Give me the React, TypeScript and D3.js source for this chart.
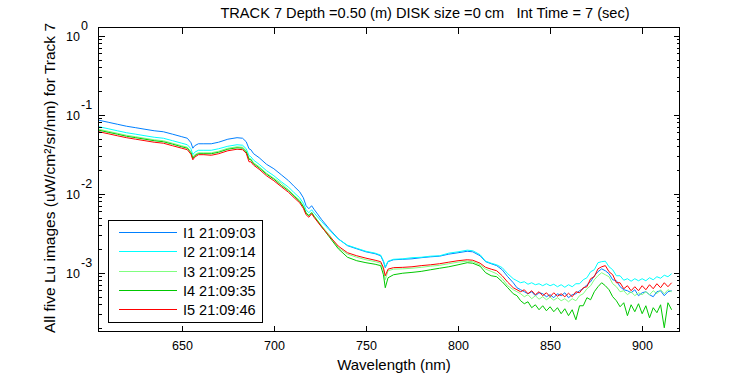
import React from "react";
import * as d3 from "d3";

const wavelengths = [
  605, 610, 615, 620, 625, 630, 635, 640, 645, 650,
  653, 655, 656, 657, 659, 662, 666, 670, 675, 680,
  683, 685, 686.5, 687.5, 689, 692, 696, 700, 704, 708,
  711, 714, 716, 717.5, 719, 720.5, 722, 726, 730, 735,
  740, 745, 750, 755, 758, 759.5, 760.5, 762, 765, 770,
  775, 780, 785, 790, 795, 800, 805, 808, 812, 815,
  818, 821, 824, 827, 830,
  832, 834, 836, 838, 840, 842, 844, 846, 848, 850,
  852, 854, 856, 858, 860, 862, 864, 866, 868, 870,
  872, 874, 876, 878, 880, 882, 884, 886, 888, 890,
  892, 894, 896, 898, 900, 902, 904, 906, 908, 910,
  912, 914, 916,
];

const luI1 = [
  0.0852, 0.0804, 0.0758, 0.0715, 0.0685, 0.0655, 0.0627, 0.0609, 0.0567, 0.0527,
  0.0504, 0.0442, 0.0377, 0.0405, 0.0429, 0.0429, 0.0429, 0.0449, 0.049, 0.0512,
  0.0504, 0.0455, 0.0371, 0.0361, 0.0321, 0.0286, 0.0236, 0.0207, 0.0174, 0.0146,
  0.0124, 0.0106, 0.0089, 0.00705, 0.00646, 0.00705, 0.00627, 0.00469, 0.00361, 0.00269,
  0.0022, 0.00201, 0.00184, 0.00174, 0.00164, 0.00138, 0.00116, 0.00138, 0.00146, 0.00148,
  0.0015, 0.00155, 0.00159, 0.00162, 0.00172, 0.00179, 0.00187, 0.00184, 0.00164, 0.00138,
  0.0013, 0.00123, 0.00109, 0.00089, 0.000747,
  0.000646, 0.000609, 0.000575, 0.000542, 0.000575, 0.000512, 0.000558, 0.000542, 0.000497, 0.000527,
  0.000483, 0.000542, 0.000512, 0.000558, 0.000483, 0.000527, 0.000542, 0.000592, 0.000627, 0.000705,
  0.000769, 0.000916, 0.00103, 0.00112, 0.00106, 0.000971, 0.000815, 0.000792, 0.000665, 0.000609,
  0.000592, 0.000558, 0.000609, 0.000512, 0.000558, 0.000575, 0.000527, 0.000497, 0.000575, 0.000592,
  0.000512, 0.000575, 0.000592,
];

const luI2 = [
  0.0705, 0.0665, 0.0627, 0.0592, 0.0567, 0.0542, 0.0519, 0.0504, 0.0469, 0.0436,
  0.0417, 0.0371, 0.0312, 0.0335, 0.0355, 0.0355, 0.0355, 0.0371, 0.0399, 0.0417,
  0.0411, 0.0371, 0.0303, 0.0294, 0.0266, 0.0236, 0.0196, 0.0169, 0.0142, 0.0121,
  0.0103, 0.0089, 0.00758, 0.00627, 0.00575, 0.00627, 0.00567, 0.00442, 0.0035, 0.00266,
  0.00223, 0.00204, 0.00187, 0.00177, 0.00167, 0.00142, 0.00119, 0.0014, 0.00148, 0.0015,
  0.00155, 0.00157, 0.00162, 0.00164, 0.00177, 0.00184, 0.00193, 0.0019, 0.00169, 0.0014,
  0.00132, 0.00126, 0.00116, 0.000971, 0.00084,
  0.000792, 0.000747, 0.000769, 0.000715, 0.000747, 0.000705, 0.000726, 0.000685, 0.000726, 0.000685,
  0.000715, 0.000665, 0.000705, 0.000655, 0.000705, 0.000665, 0.000726, 0.000726, 0.000815, 0.000864,
  0.00103, 0.00109, 0.00134, 0.00138, 0.0014, 0.00119, 0.00109, 0.000916, 0.000916, 0.000804,
  0.00084, 0.000781, 0.00084, 0.000792, 0.00084, 0.000792, 0.000864, 0.000815, 0.00089, 0.000852,
  0.00093, 0.00089, 0.000971,
];

const luI3 = [
  0.0655, 0.0618, 0.0583, 0.055, 0.0527, 0.0504, 0.0483, 0.0469, 0.0436, 0.0405,
  0.0388, 0.034, 0.029, 0.0312, 0.033, 0.033, 0.033, 0.0345, 0.0377, 0.0393,
  0.0388, 0.035, 0.0281, 0.0277, 0.0247, 0.022, 0.0182, 0.0157, 0.0136, 0.0112,
  0.00957, 0.00828, 0.00705, 0.00583, 0.00534, 0.00583, 0.00519, 0.00393, 0.00303, 0.00207,
  0.00172, 0.00157, 0.00146, 0.00138, 0.00132, 0.00109, 0.000815, 0.00106, 0.00111, 0.00112,
  0.00114, 0.00117, 0.00121, 0.00124, 0.0013, 0.00136, 0.0014, 0.00138, 0.00126, 0.00111,
  0.00104, 0.000971, 0.00084, 0.000685, 0.000609,
  0.000575, 0.000542, 0.000497, 0.000527, 0.000469, 0.000512, 0.000462, 0.000497, 0.000455, 0.00049,
  0.000449, 0.000483, 0.000442, 0.000469, 0.000429, 0.000469, 0.000442, 0.000512, 0.000542, 0.000627,
  0.000685, 0.000815, 0.000916, 0.001, 0.000943, 0.00089, 0.000726, 0.000665, 0.000575, 0.000592,
  0.000527, 0.000575, 0.000512, 0.000558, 0.000527, 0.000575, 0.000527, 0.000592, 0.000542, 0.000609,
  0.000542, 0.000609, 0.000575,
];

const luI4 = [
  0.0637, 0.06, 0.0567, 0.0534, 0.0512, 0.049, 0.0469, 0.0455, 0.0424, 0.0393,
  0.0377, 0.033, 0.0281, 0.0303, 0.0321, 0.0321, 0.0321, 0.0335, 0.0366, 0.0382,
  0.0377, 0.034, 0.0273, 0.0269, 0.024, 0.0213, 0.0177, 0.0153, 0.0128, 0.0109,
  0.0093, 0.00804, 0.00685, 0.00567, 0.00527, 0.00575, 0.00512, 0.00382, 0.00286, 0.00201,
  0.00157, 0.00142, 0.00134, 0.00128, 0.00123, 0.000943, 0.000646, 0.000864, 0.000943, 0.000986,
  0.00101, 0.00104, 0.00109, 0.00114, 0.00119, 0.00126, 0.00134, 0.00132, 0.00121, 0.001,
  0.000916, 0.00089, 0.000769, 0.000646, 0.000542,
  0.000512, 0.000442, 0.000405, 0.000429, 0.000361, 0.000393, 0.00034, 0.000382, 0.00033, 0.000371,
  0.000321, 0.000361, 0.000303, 0.00035, 0.000286, 0.00034, 0.000254, 0.000382, 0.000382, 0.000483,
  0.000455, 0.000575, 0.000665, 0.000747, 0.000685, 0.000609, 0.000497, 0.000442, 0.000371, 0.000417,
  0.000286, 0.000393, 0.000321, 0.000405, 0.000303, 0.000382, 0.000269, 0.000361, 0.000312, 0.000393,
  0.000201, 0.000417, 0.00034,
];

const luI5 = [
  0.0609, 0.0575, 0.0542, 0.0512, 0.049, 0.0469, 0.0449, 0.0436, 0.0405, 0.0377,
  0.0361, 0.0316, 0.0269, 0.029, 0.0312, 0.0312, 0.0307, 0.0321, 0.035, 0.0366,
  0.0361, 0.0326, 0.0254, 0.0254, 0.023, 0.0204, 0.0169, 0.0146, 0.0123, 0.0104,
  0.0089, 0.00769, 0.00655, 0.00542, 0.00504, 0.00558, 0.00497, 0.00377, 0.00294, 0.00217,
  0.00179, 0.00164, 0.00153, 0.00144, 0.00138, 0.00116, 0.000916, 0.00111, 0.00116, 0.00117,
  0.00119, 0.00123, 0.00126, 0.0013, 0.00136, 0.00142, 0.00146, 0.00144, 0.00132, 0.00117,
  0.00111, 0.00106, 0.000916, 0.000758, 0.000646,
  0.000609, 0.000575, 0.000609, 0.000542, 0.000592, 0.000527, 0.000575, 0.000512, 0.000558, 0.000497,
  0.000558, 0.000504, 0.000542, 0.000497, 0.00055, 0.000497, 0.000575, 0.000558, 0.000646, 0.000665,
  0.00084, 0.00089, 0.00112, 0.00119, 0.00123, 0.00103, 0.000943, 0.000747, 0.000747, 0.000627,
  0.000685, 0.000592, 0.000665, 0.000592, 0.000685, 0.000609, 0.000705, 0.000627, 0.000726, 0.000646,
  0.000747, 0.000665, 0.000747,
];

const seriesNames = ["I1 21:09:03", "I2 21:09:14", "I3 21:09:25", "I4 21:09:35", "I5 21:09:46"];
const seriesColors = ["#0080ff", "#00ffff", "#80ff80", "#00c800", "#ff0000"];
const seriesValues = [luI1, luI2, luI3, luI4, luI5];

const xTicks = [650, 700, 750, 800, 850, 900];
const yDecadeExponents = [0, -1, -2, -3];

const titleText = "TRACK 7 Depth =0.50 (m) DISK size =0 cm   Int Time = 7 (sec)";
const xLabelText = "Wavelength (nm)";
const yLabelText = "All five Lu images (uW/cm\u00B2/sr/nm) for Track 7";

export default function App() {
  const W = 750;
  const H = 375;
  const left = 98;
  const right = 679;
  const top = 27;
  const bottom = 331;
  const font = "'Liberation Sans', Arial, Helvetica, sans-serif";

  const x = d3.scaleLinear().domain([604.5, 920]).range([left, right]);
  const y = d3.scaleLog().domain([1.83e-4, 1.29]).range([bottom, top]);

  const line = d3
    .line<number>()
    .x((_, i) => x(wavelengths[i]))
    .y((d) => y(d));

  const minorTicks: number[] = [];
  for (let e = -4; e <= 0; e++) {
    for (let k = 2; k <= 9; k++) {
      const v = k * Math.pow(10, e);
      if (v > 1.83e-4 && v < 1.29) minorTicks.push(v);
    }
  }

  const legendX = 108.5;
  const legendY = 220.5;
  const legendW = 154;
  const legendH = 102;
  const rowH = 19.25;

  return (
    <svg
      width={W}
      height={H}
      style={{ position: "absolute", left: 0, top: 0, background: "#fff" }}
      fontFamily={font}
    >
      <rect x={0} y={0} width={W} height={H} fill="#fff" />
      <defs>
        <clipPath id="plotclip">
          <rect x={left} y={top} width={right - left} height={bottom - top} />
        </clipPath>
      </defs>

      <g clipPath="url(#plotclip)">
        {seriesValues.map((vals, si) => (
          <path
            key={si}
            d={line(vals) || ""}
            fill="none"
            stroke={seriesColors[si]}
            strokeWidth={1}
          />
        ))}
      </g>

      <rect
        x={left + 0.5}
        y={top + 0.5}
        width={right - left}
        height={bottom - top}
        fill="none"
        stroke="#000"
        strokeWidth={1}
        shapeRendering="crispEdges"
      />

      {xTicks.map((t) => {
        const px = Math.round(x(t)) + 0.5;
        return (
          <g key={t} shapeRendering="crispEdges">
            <line x1={px} x2={px} y1={bottom + 0.5} y2={bottom - 5.5} stroke="#000" />
            <line x1={px} x2={px} y1={top + 0.5} y2={top + 6.5} stroke="#000" />
            <text x={px} y={350} fontSize={12.5} textAnchor="middle" fill="#000">
              {t}
            </text>
          </g>
        );
      })}

      {yDecadeExponents.map((e) => {
        const py = Math.round(y(Math.pow(10, e))) + 0.5;
        return (
          <g key={e}>
            <line x1={left + 0.5} x2={left + 6.5} y1={py} y2={py} stroke="#000" shapeRendering="crispEdges" />
            <line x1={right + 0.5} x2={right - 5.5} y1={py} y2={py} stroke="#000" shapeRendering="crispEdges" />
            <text x={80} y={py + 4.5} fontSize={12.5} textAnchor="end" fill="#000">
              10
            </text>
            <text x={81} y={py - 7} fontSize={12.5} textAnchor="start" fill="#000">
              {e === 0 ? "0" : String(e)}
            </text>
          </g>
        );
      })}

      {minorTicks.map((v, i) => {
        const py = Math.round(y(v)) + 0.5;
        return (
          <g key={i} shapeRendering="crispEdges">
            <line x1={left + 0.5} x2={left + 3.5} y1={py} y2={py} stroke="#000" />
            <line x1={right + 0.5} x2={right - 2.5} y1={py} y2={py} stroke="#000" />
          </g>
        );
      })}

      <text
        x={425}
        y={18}
        fontSize={14.6}
        textAnchor="middle"
        fill="#000"
        style={{ whiteSpace: "pre" }}
        xmlSpace="preserve"
      >
        {titleText}
      </text>

      <text x={394} y={370} fontSize={15} textAnchor="middle" fill="#000">
        {xLabelText}
      </text>

      <text
        transform={`translate(55, 178) rotate(-90)`}
        fontSize={15.5}
        textAnchor="middle"
        fill="#000"
      >
        {yLabelText}
      </text>

      <rect
        x={legendX}
        y={legendY}
        width={legendW}
        height={legendH}
        fill="#fff"
        stroke="#000"
        strokeWidth={1}
        shapeRendering="crispEdges"
      />
      {seriesNames.map((name, i) => {
        const ly = Math.round(legendY + 11.5 + i * rowH) + 0.5;
        return (
          <g key={name}>
            <line
              x1={119}
              x2={177}
              y1={ly}
              y2={ly}
              stroke={seriesColors[i]}
              strokeWidth={1}
              shapeRendering="crispEdges"
            />
            <text x={183} y={ly + 5} fontSize={14.5} fill="#000">
              {name}
            </text>
          </g>
        );
      })}
    </svg>
  );
}
